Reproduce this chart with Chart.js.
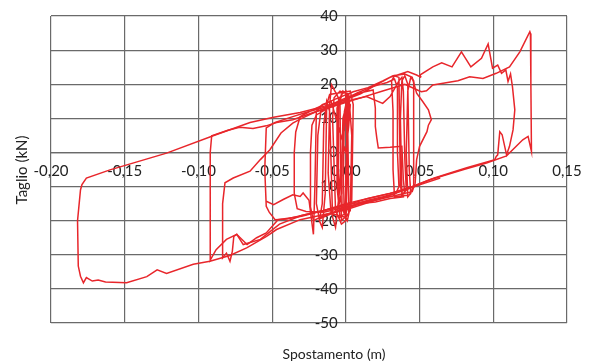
<!DOCTYPE html>
<html>
<head>
<meta charset="utf-8">
<script src="https://cdn.jsdelivr.net/npm/chart.js@4.4.1/dist/chart.umd.min.js"></script>
<style>
    html, body { margin: 0; padding: 0; background: #ffffff; }
    #wrap { position: relative; width: 593px; height: 363px; }
</style>
</head>
<body>
<div id="wrap"><canvas id="myChart" width="593" height="363"></canvas></div>
<script>
// Axis labels and ticks
const xTitle = 'Spostamento (m)';
const yTitle = 'Taglio (kN)';
const xTickValues = [-0.20, -0.15, -0.10, -0.05, 0, 0.05, 0.10, 0.15];
const yTickValues = [-50, -40, -30, -20, -10, 0, 10, 20, 30, 40];

// Hysteresis record, split in cycles: [displacement (m), shear (kN)]
const cycleSmall = [
    [-0.054, -14.3], [-0.049, -15.3], [-0.0425, -13.8], [-0.036, -12.4], [-0.031, -12.9], [-0.029, -11.9],
    [-0.025, -14], [-0.022, -24], [-0.021, -10], [-0.020, 12], [-0.016, 14], [-0.010, 15],
    [0.000, 0], [0.002, 8], [0.003, 14], [0.001, 15], [-0.002, 10], [-0.003, -12], [-0.005, -16],
    [-0.004, -8], [0.000, 12], [0.002, 16], [0.001, 4], [-0.001, -18], [-0.004, -19], [-0.006, -10],
    [-0.006, 13], [-0.003, 17], [0.000, 18], [0.001, -5], [0.000, -20], [-0.003, -21], [-0.007, -17],
    [-0.009, 10], [-0.008, 16], [-0.004, 18], [0.002, 17], [0.004, 5], [0.003, -17], [0.000, -19],
    [-0.010, -18], [-0.012, -6], [-0.011, 14], [-0.0097, 19.8], [-0.005, 16], [-0.005, -14], [-0.007, -22],
    [-0.009, -19], [-0.011, 12], [-0.013, 15], [-0.015, 8], [-0.016, -15], [-0.018, -20], [-0.016, -22],
    [-0.014, -12], [-0.013, 14], [-0.011, 17], [0.003, 18], [0.005, 14], [0.004, -14], [0.001, -20],
    [-0.002, -17], [-0.001, 12], [0.001, 16], [0.002, -18], [-0.003, -20], [-0.004, 15], [-0.002, 18],
    [0.001, 17], [0.002, -15], [0.000, -18]
];

const cycleMid = [
    [0.000, -18], [0.001, 16], [0.008, 17.5], [0.018, 19.3], [0.028, 20.5], [0.033, 21.5], [0.035, 19],
    [0.035, 0], [0.036, -10], [0.034, -12], [0.025, -13], [0.015, -14], [0.005, -15.5], [-0.005, -17],
    [-0.015, -18.5], [-0.022, -20], [-0.024, -16], [-0.024, 0], [-0.023, 8], [-0.020, 11], [-0.012, 13],
    [-0.004, 14.5], [0.005, 15.5], [0.014, 16.4], [0.025, 14.4], [0.030, 16.4], [0.036, 21], [0.038, 22],
    [0.039, 18], [0.040, -2], [0.041, -11], [0.038, -12.5], [0.037, 10], [0.038, 21], [0.040, 22.5],
    [0.042, 20], [0.043, -5], [0.044, -12], [0.042, -13], [0.041, 0], [0.042, 18], [0.044, 22],
    [0.046, 21], [0.046, 5], [0.046, -10], [0.043, -12.5], [0.033, -13], [0.032, -5], [0.032, 12],
    [0.031, 21], [0.033, 22.5], [0.036, 22], [0.037, -10], [0.039, -13], [0.030, -13.5], [0.020, -14.5],
    [0.010, -15], [0.000, -16.5], [-0.010, -18], [-0.018, -19.5], [-0.020, -15], [-0.019, 5],
    [-0.017, 12], [-0.010, 14], [0.000, 16]
];

const cycleA = [
    [0.000, 16], [0.010, 17.5], [0.0185, 18.3], [0.020, 13], [0.020, 7.6], [0.021, 4.2], [0.022, 1.3],
    [0.030, 1.5], [0.038, 1.8], [0.039, -8], [0.040, -12], [0.030, -13], [0.015, -14.5], [0.000, -16],
    [-0.015, -17.5], [-0.027, -17.3], [-0.033, -16.5], [-0.035, -12], [-0.035, 0], [-0.034, 6],
    [-0.031, 10.5], [-0.020, 13], [-0.008, 15.5], [0.005, 17.8], [0.015, 19], [0.025, 21], [0.032, 22.5],
    [0.040, 23], [0.045, 22], [0.048, 17.4], [0.052, 15], [0.056, 12.5], [0.058, 9.6], [0.056, 8],
    [0.055, 6.1], [0.050, 1.8], [0.048, -2.1], [0.047, -9], [0.045, -11.5], [0.035, -12.5], [0.020, -13.8],
    [0.005, -15], [-0.010, -16.5], [-0.025, -18], [-0.040, -19.5], [-0.048, -19.7], [-0.052, -17.5],
    [-0.054, -15.8], [-0.055, -5], [-0.054, 7.2], [-0.048, 8.8], [-0.036, 10.5], [-0.025, 12],
    [-0.013, 13.4], [0.000, 15.5], [0.010, 17.2], [0.0185, 19.3], [0.030, 22], [0.042, 23.7],
    [0.048, 22.7], [0.051, 22]
];

const cycleB = [
    [0.051, 22], [0.0502, 22.7], [0.059, 25.1], [0.065, 26.3], [0.072, 25.1], [0.0784, 29.5],
    [0.0848, 25.1], [0.092, 27.6], [0.0965, 31.8], [0.0995, 24.7], [0.103, 25.6], [0.1056, 23.2],
    [0.1085, 24.2], [0.110, 20.8], [0.1117, 23.0], [0.113, 19.3], [0.1146, 12.5], [0.1134, 6.6],
    [0.111, 1.8], [0.109, -0.7], [0.106, 5.2], [0.1044, 6.1], [0.103, -0.7], [0.102, -1.2], [0.101, -2.1],
    [0.082, -4.5], [0.060, -7.5], [0.045, -10], [0.030, -12], [0.015, -13.5], [0.000, -15.5],
    [-0.015, -17], [-0.030, -18.7], [-0.046, -19.7], [-0.054, -23.6], [-0.0605, -25], [-0.067, -27],
    [-0.074, -24], [-0.081, -25.5], [-0.088, -28.5], [-0.092, -31.6], [-0.092, -20], [-0.092, 0],
    [-0.091, 4.9], [-0.080, 6.5], [-0.072, 7.4], [-0.063, 7], [-0.054, 7.8], [-0.047, 8.8],
    [-0.036, 9.6], [-0.020, 12], [-0.005, 14], [0.010, 16], [0.025, 18], [0.040, 20], [0.050, 18]
];

const cycleD = [
    [0.000, 15], [-0.020, 12], [-0.030, 10], [-0.036, 8.6], [-0.044, 5.7], [-0.0515, 0.8], [-0.058, -2.1],
    [-0.065, -5.5], [-0.0764, -7.5], [-0.082, -8.9], [-0.0836, -15], [-0.0836, -30.9], [-0.081, -29.5],
    [-0.0786, -31.9], [-0.077, -29], [-0.076, -24.6], [-0.074, -24], [-0.0696, -27], [-0.058, -25.5],
    [-0.045, -21], [-0.030, -18.5], [-0.015, -17], [0.000, -15], [0.020, -13], [0.040, -11],
    [0.050, -9.5], [0.064, -7.5]
];

const cycleC = [
    [0.050, 18], [0.0513, 17.8], [0.0547, 18.1], [0.059, 19.8], [0.066, 20.3], [0.076, 21.0],
    [0.084, 22.2], [0.093, 21.7], [0.102, 23.2], [0.111, 25.1], [0.118, 29.5], [0.1248, 35.4],
    [0.1252, 34.9], [0.1255, 20], [0.1259, 0.3], [0.1236, 4.7], [0.120, 3.7], [0.109, -1],
    [0.0954, -3.1], [0.080, -5], [0.057, -8], [0.040, -11], [0.020, -14], [0.000, -16.8],
    [-0.020, -18.7], [-0.031, -19.7], [-0.047, -22.6], [-0.0538, -24.6], [-0.0673, -28.0],
    [-0.0787, -30.2], [-0.0922, -31.9], [-0.1035, -32.8], [-0.1216, -35.5], [-0.128, -34.4],
    [-0.135, -36.4], [-0.1487, -38.2], [-0.163, -38.0], [-0.168, -37.4], [-0.172, -37.7],
    [-0.176, -36.7], [-0.178, -38.2], [-0.180, -36.3], [-0.1815, -33.3], [-0.182, -20],
    [-0.180, -11], [-0.179, -9.4], [-0.176, -7.5], [-0.160, -5.1], [-0.1216, -0.2], [-0.090, 4.9],
    [-0.065, 8.8], [-0.049, 10.3], [-0.031, 11.7], [-0.015, 13.5], [0.000, 15.5]
];

const allCycles = [cycleSmall, cycleMid, cycleA, cycleD, cycleB, cycleC];

// Axis titles drawn outside the centred axes
const axisTitles = {
    id: 'axisTitles',
    afterDraw(chart) {
        const ctx = chart.ctx;
        ctx.save();
        ctx.fillStyle = '#222222';
        ctx.textAlign = 'center';
        ctx.textBaseline = 'middle';
        ctx.font = '14px Lato';
        ctx.fillText(xTitle, 334, 354);
        ctx.font = '15px Lato';
        ctx.translate(22, 170);
        ctx.rotate(-Math.PI / 2);
        ctx.fillText(yTitle, 0, 0);
        ctx.restore();
    }
};

const formatX = v => v.toFixed(2).replace('.', ',');
const gridColor = '#6a6a6a';

const ctx = document.getElementById('myChart').getContext('2d');
new Chart(ctx, {
    type: 'scatter',
    data: {
        datasets: allCycles.map(cycle => ({
            data: cycle.map(p => ({x: p[0], y: p[1]})),
            showLine: true,
            borderColor: '#e8262b',
            borderWidth: 1.5,
            pointRadius: 0,
            tension: 0
        }))
    },
    options: {
        responsive: false,
        animation: false,
        layout: {
            padding: {left: 51, right: 26, top: 16, bottom: 40}
        },
        plugins: {
            legend: {display: false},
            tooltip: {enabled: false}
        },
        scales: {
            x: {
                type: 'linear',
                position: {y: 0},
                min: -0.20,
                max: 0.15,
                afterBuildTicks: axis => { axis.ticks = xTickValues.map(v => ({value: v})); },
                grid: {color: gridColor, lineWidth: 1.2, drawTicks: false},
                border: {color: gridColor, width: 1.2},
                ticks: {
                    autoSkip: false,
                    maxRotation: 0,
                    padding: 10,
                    color: '#222222',
                    font: {family: 'Lato', size: 15},
                    callback: v => formatX(v)
                }
            },
            y: {
                type: 'linear',
                // labels sit just left of the zero line; the x grid line at 0 is the axis
                position: {x: -0.0055},
                min: -50,
                max: 40,
                afterBuildTicks: axis => { axis.ticks = yTickValues.map(v => ({value: v})); },
                grid: {color: gridColor, lineWidth: 1.2, drawTicks: false},
                border: {display: false},
                ticks: {
                    autoSkip: false,
                    color: '#222222',
                    font: {family: 'Lato', size: 15},
                    callback: v => String(v)
                }
            }
        }
    },
    plugins: [axisTitles]
});
</script>
</body>
</html>
